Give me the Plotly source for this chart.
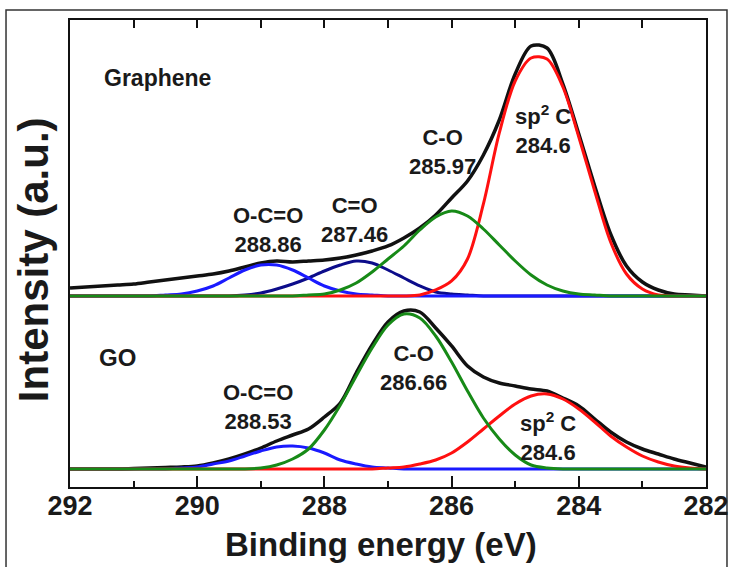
import plotly.graph_objects as go

# Binding energy grid (eV)
energy = [292.0, 291.75, 291.5, 291.25, 291.0, 290.75, 290.5, 290.25, 290.0, 289.75,
          289.5, 289.25, 289.0, 288.75, 288.5, 288.25, 288.0, 287.75, 287.5, 287.25,
          287.0, 286.75, 286.5, 286.25, 286.0, 285.75, 285.5, 285.25, 285.0, 284.75,
          284.5, 284.25, 284.0, 283.75, 283.5, 283.25, 283.0, 282.75, 282.5, 282.25, 282.0]

# Graphene (upper panel), intensity a.u.
gr_total = [8, 9, 10, 11, 12, 14, 16, 18, 20, 22, 25, 29, 33, 35, 34, 35, 36, 38, 41, 45,
            50, 58, 68, 81, 98, 115, 141, 176, 222, 250, 248, 212, 162, 110, 62, 30, 14, 6, 2, 1, 0]
gr_c_o_o = [0, 0, 0, 0, 0, 0, 1, 2, 5, 10, 18, 26, 31, 31, 26, 18, 10, 5, 2, 1,
            0, 0, 0, 0, 0, 0, 0, 0, 0, 0, 0, 0, 0, 0, 0, 0, 0, 0, 0, 0, 0]
gr_c_eq_o = [0, 0, 0, 0, 0, 0, 0, 0, 0, 0, 0, 1, 3, 7, 12, 18, 25, 31, 35, 33,
             26, 18, 10, 4, 2, 1, 0, 0, 0, 0, 0, 0, 0, 0, 0, 0, 0, 0, 0, 0, 0]
gr_c_o = [0, 0, 0, 0, 0, 0, 0, 0, 0, 0, 0, 0, 0, 0, 0, 1, 2, 6, 13, 24,
          37, 50, 66, 79, 85, 80, 67, 51, 35, 21, 11, 5, 2, 1, 0, 0, 0, 0, 0, 0, 0]
gr_sp2 = [0, 0, 0, 0, 0, 0, 0, 0, 0, 0, 0, 0, 0, 0, 0, 0, 0, 0, 0, 0,
          0, 0, 1, 6, 15, 37, 92, 163, 215, 238, 237, 209, 159, 105, 54, 22, 7, 1, 0, 0, 0]

# GO (lower panel)
go_total = [0, 0, 0, 0, 0.5, 1, 1.5, 2, 3, 6, 10, 15, 21, 28, 34, 40, 52, 66, 96, 124,
            147, 158, 157, 141, 123, 103, 92, 86, 83, 80, 78, 71, 63, 50, 37, 27, 20, 15, 10, 6, 2]
go_c_o_o = [0, 0, 0, 0, 0, 0, 0, 1, 2, 5, 8, 13, 18, 22, 23, 21, 16, 9, 5, 2,
            1, 0, 0, 0, 0, 0, 0, 0, 0, 0, 0, 0, 0, 0, 0, 0, 0, 0, 0, 0, 0]
go_c_o = [0, 0, 0, 0, 0, 0, 0, 0, 0, 0, 0, 0, 1, 4, 10, 20, 39, 64, 93, 121,
          144, 155, 151, 133, 107, 78, 51, 30, 14, 4, 1, 0, 0, 0, 0, 0, 0, 0, 0, 0, 0]
go_sp2 = [0, 0, 0, 0, 0, 0, 0, 0, 0, 0, 0, 0, 0, 0, 0, 0, 0, 0, 0, 0,
          1, 2, 5, 9, 16, 27, 40, 53, 65, 73, 75, 70, 60, 47, 33, 22, 13, 7, 3, 1, 0]

x_ticks = [292, 290, 288, 286, 284, 282]

BLACK = "#111111"
NAVY = "#0c0c8a"
BLUE = "#1a1aff"
RED = "#ff1010"
GREEN = "#178a17"
FONT = "Liberation Sans, Arial, sans-serif"
TXT = "#1a1a1a"

fig = go.Figure()

def add(x, y, color, width, xa, ya):
    fig.add_trace(go.Scatter(x=x, y=y, mode="lines", xaxis=xa, yaxis=ya,
                             line=dict(color=color, width=width, shape="spline", smoothing=0.9),
                             hoverinfo="skip", showlegend=False))

# upper panel (graphene)
add(energy, gr_total, BLACK, 3.5, "x2", "y2")
add(energy, gr_c_eq_o, NAVY, 3, "x2", "y2")
add(energy, gr_c_o_o, BLUE, 3, "x2", "y2")
add(energy, gr_sp2, RED, 3, "x2", "y2")
add(energy, gr_c_o, GREEN, 3, "x2", "y2")
# lower panel (GO)
add(energy, go_total, BLACK, 3.5, "x", "y")
add(energy, go_c_o_o, BLUE, 3, "x", "y")
add(energy, go_sp2, RED, 3, "x", "y")
add(energy, go_c_o, GREEN, 3, "x", "y")

split = 0.4026

fig.update_layout(
    width=729, height=567, autosize=False,
    margin=dict(l=70, r=23, t=20, b=80),
    paper_bgcolor="white", plot_bgcolor="white",
    xaxis=dict(range=[292, 282], anchor="y", showline=True, linecolor="#111", linewidth=2,
               ticks="inside", tickvals=x_ticks, ticklen=11, tickwidth=2, tickcolor="#111",
               minor=dict(dtick=1, ticks="inside", ticklen=6, tickwidth=2, tickcolor="#111"),
               showgrid=False, zeroline=False, ticklabelstandoff=-6, automargin=False,
               ticklabeloverflow="allow",
               tickfont=dict(family=FONT, size=27, color=TXT, weight="bold")),
    xaxis2=dict(range=[292, 282], anchor="y2", side="top", showline=True, linecolor="#111",
                linewidth=2, ticks="inside", dtick=1, tick0=282, ticklen=8, tickwidth=2,
                tickcolor="#111", showticklabels=False, showgrid=False, zeroline=False,
                automargin=False),
    yaxis=dict(domain=[0, split], range=[-18, 170], showline=True, mirror=True,
               linecolor="#111", linewidth=2, showticklabels=False, ticks="",
               showgrid=False, zeroline=False, automargin=False),
    yaxis2=dict(domain=[split, 1], range=[-3, 276], showline=True, mirror=True,
                linecolor="#111", linewidth=2, showticklabels=False, ticks="",
                showgrid=False, zeroline=False, automargin=False),
)

def label(text, x, y, xa, ya, size=22):
    fig.add_annotation(text=text, x=x, y=y, xref=xa, yref=ya, showarrow=False,
                       xanchor="center", yanchor="middle",
                       font=dict(family=FONT, size=size, color=TXT, weight="bold"))

label("Graphene", 290.62, 218, "x2", "y2", 23)
label("O-C=O<br>288.86", 288.89, 66, "x2", "y2")
label("C=O<br>287.46", 287.52, 76, "x2", "y2")
label("C-O<br>285.97", 286.15, 144, "x2", "y2")
label("sp<sup>2</sup> C<br>284.6", 284.56, 166, "x2", "y2")

label("GO", 291.25, 111, "x", "y", 24)
label("O-C=O<br>288.53", 289.04, 62, "x", "y")
label("C-O<br>286.66", 286.6, 101, "x", "y")
label("sp<sup>2</sup> C<br>284.6", 284.48, 32, "x", "y")

fig.add_annotation(text="Intensity (a.u.)", x=-0.058, y=0.486, xref="paper", yref="paper",
                   textangle=-90, showarrow=False, xanchor="center", yanchor="middle",
                   font=dict(family=FONT, size=42, color=TXT, weight="bold"))
fig.add_annotation(text="Binding energy (eV)", x=0.489, y=-0.124, xref="paper", yref="paper",
                   showarrow=False, xanchor="center", yanchor="middle",
                   font=dict(family=FONT, size=33, color=TXT, weight="bold"))

# outer picture border
fig.add_shape(type="rect", xref="paper", yref="paper", x0=-0.1006, x1=1.033, y0=-0.3, y1=1.0214,
              line=dict(color="#333", width=1.5), layer="below")

fig.write_html("out.html", config={"responsive": False},
               post_script="document.body.style.margin='0';document.body.style.overflow='hidden';")
